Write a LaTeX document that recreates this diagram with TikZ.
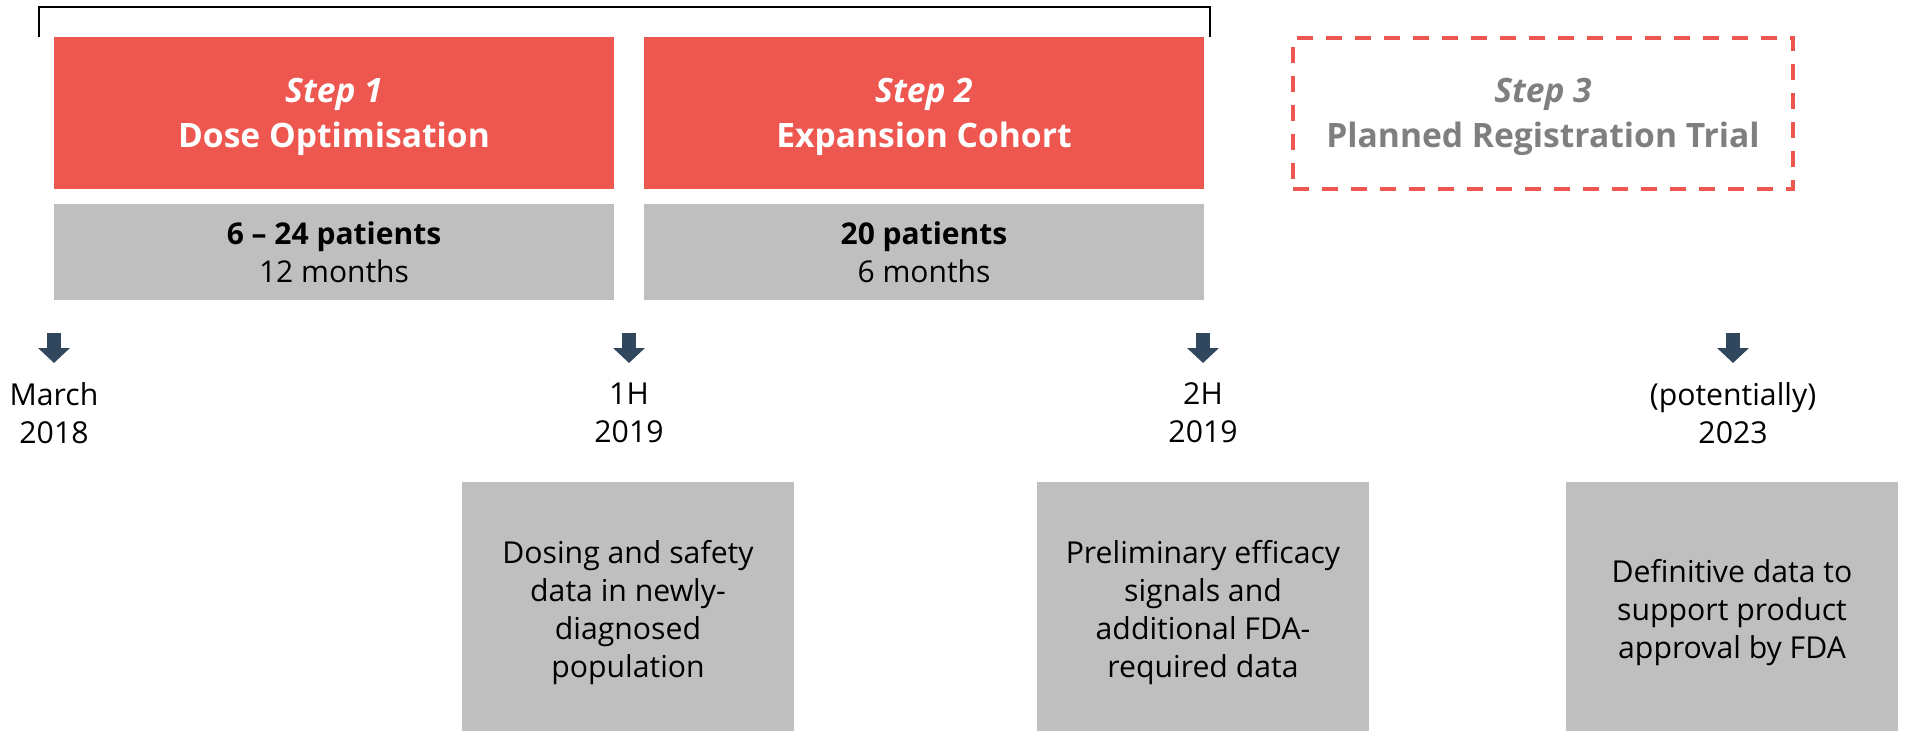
\documentclass[tikz,border=0pt]{standalone}
\usepackage{fontspec}
\setmainfont{Open Sans}
\usetikzlibrary{arrows.meta}
\definecolor{stepred}{HTML}{ED5750}
\definecolor{boxgray}{HTML}{BFBFBF}
\definecolor{arrowcol}{HTML}{31475E}
\definecolor{plangray}{HTML}{7F7F7F}
\begin{document}
\begin{tikzpicture}[x=1pt,y=-1pt,
  redbox/.style={rectangle, fill=stepred, draw=none, inner sep=0pt, outer sep=0pt, minimum width=560pt, minimum height=152pt},
  planbox/.style={rectangle, draw=stepred, line width=4pt, dash pattern=on 16pt off 13pt, inner sep=0pt, minimum width=500pt, minimum height=151pt},
  topgray/.style={rectangle, fill=boxgray, draw=none, inner sep=0pt, outer sep=0pt, minimum width=560pt, minimum height=96pt, align=center, font=\fontsize{30}{38}\selectfont},
  botgray/.style={rectangle, fill=boxgray, draw=none, inner sep=0pt, outer sep=0pt, minimum width=332pt, minimum height=249pt},
  steptext/.style={align=center, inner sep=0pt, font=\fontsize{33.6}{45}\selectfont\bfseries},
  datetext/.style={align=center, inner sep=0pt, font=\fontsize{30.2}{38}\selectfont},
  bodytext/.style={align=center, inner sep=0pt, font=\fontsize{30.2}{38}\selectfont},
  blockarrow/.style={draw=arrowcol, line width=14pt, -{Triangle[width=31pt,length=15pt]}}
]
\useasboundingbox (0,0) rectangle (1910,731);

% bracket
\coordinate (brA) at (39,37);
\coordinate (brB) at (39,7);
\coordinate (brC) at (1210,7);
\coordinate (brD) at (1210,37);
\draw[line width=2pt, line join=miter] (brA) -- (brB) -- (brC) -- (brD);

% step boxes
\node[redbox] (s1) at (334,113) {};
\node[redbox] (s2) at (924,113) {};
\node[planbox] (s3) at (1543,113.5) {};
\node[steptext, text=white] (s1t) at (334,117) {\textit{Step 1}\\Dose Optimisation};
\node[steptext, text=white] (s2t) at (924,117) {\textit{Step 2}\\Expansion Cohort};
\node[steptext, text=plangray] (s3t) at (1543,117) {\textit{Step 3}\\Planned Registration Trial};

% patient boxes
\node[topgray] (p1) at (334,252) {\textbf{6 – 24 patients}\\12 months};
\node[topgray] (p2) at (924,252) {\textbf{20 patients}\\6 months};

% milestone arrows
\coordinate (a1s) at (54,333);   \coordinate (a1e) at (54,363);
\coordinate (a2s) at (629,333);  \coordinate (a2e) at (629,363);
\coordinate (a3s) at (1203,333); \coordinate (a3e) at (1203,363);
\coordinate (a4s) at (1733,333); \coordinate (a4e) at (1733,363);
\draw[blockarrow] (a1s) -- (a1e);
\draw[blockarrow] (a2s) -- (a2e);
\draw[blockarrow] (a3s) -- (a3e);
\draw[blockarrow] (a4s) -- (a4e);

% dates
\node[datetext] (d1) at (54,413) {March\\2018};
\node[datetext] (d2) at (629,413) {1H\\2019};
\node[datetext] (d3) at (1203,413) {2H\\2019};
\node[datetext] (d4) at (1733,413) {(potentially)\\2023};

% outcome boxes
\node[botgray] (o1) at (628,606.5) {};
\node[botgray] (o2) at (1203,606.5) {};
\node[botgray] (o3) at (1732,606.5) {};
\node[bodytext] (o1t) at (628,612.5) {Dosing and safety\\data in newly-\\diagnosed\\population};
\node[bodytext] (o2t) at (1203,612.5) {Preliminary efficacy\\signals and\\additional FDA-\\required data};
\node[bodytext] (o3t) at (1732,612.5) {Definitive data to\\support product\\approval by FDA};
\end{tikzpicture}
\end{document}
